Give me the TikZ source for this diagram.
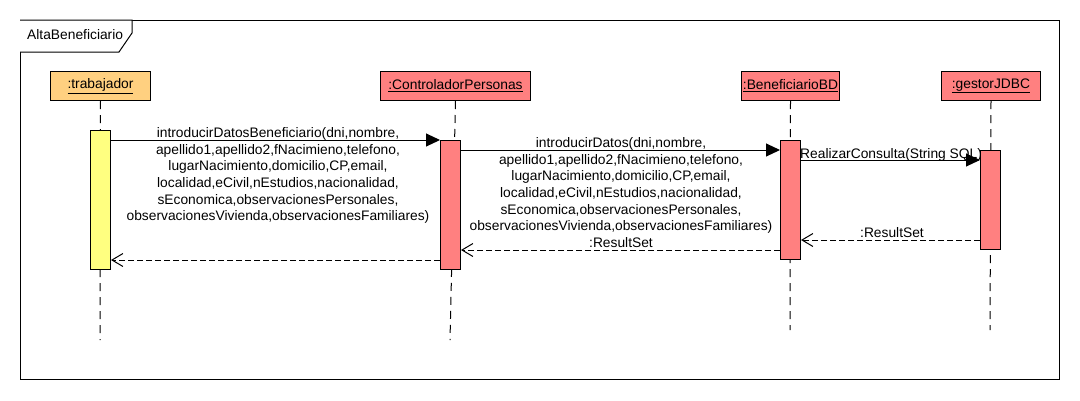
\documentclass[tikz,border=0pt]{standalone}
\usepackage{fontspec}
\setmainfont{Liberation Sans}
\usetikzlibrary{arrows.meta,calc}
\definecolor{headorange}{HTML}{FFD080}
\definecolor{headred}{HTML}{FF8080}
\definecolor{actyellow}{HTML}{FFFF80}
\tikzset{
  every node/.style={font=\fontsize{13.8}{16.6}\selectfont},
  headbox/.style={draw=black, line width=1pt, minimum height=29pt, inner sep=0pt, anchor=north west},
  actbox/.style={draw=black, line width=1pt, minimum width=20pt, inner sep=0pt, anchor=north west},
  lifeline/.style={draw=black, line width=1pt, dash pattern=on 8pt off 6pt},
  callmsg/.style={draw=black, line width=1pt, -{Triangle[length=14pt,width=13pt]}},
  retmsg/.style={draw=black, line width=1pt, dash pattern=on 6pt off 3pt, -{Straight Barb[length=11pt,width=13pt,line width=1pt]}},
  msglabel/.style={align=center, inner sep=0pt},
}
\begin{document}
\begin{tikzpicture}[x=1pt,y=-1pt]
\useasboundingbox[fill=white] (0,0) rectangle (1080,400);
% frame
\draw[line width=1pt] (20,20) rectangle (1059,379);
\draw[line width=1pt, fill=white] (20,20) -- (132,20) -- (132,33) -- (119,52) -- (20,52);
\node[anchor=west, inner sep=0pt] (ftitle) at (27,35) {AltaBeneficiario};
% heads
\node[headbox, fill=headorange, minimum width=100pt] (h1) at (50,71) {\underline{:trabajador}};
\node[headbox, fill=headred, minimum width=150pt] (h2) at (380,71) {\underline{:ControladorPersonas}};
\node[headbox, fill=headred, minimum width=98pt] (h3) at (741,71) {\underline{:BeneficiarioBD}};
\node[headbox, fill=headred, minimum width=99pt] (h4) at (941,71) {\underline{:gestorJDBC}};
% lifeline ends
\coordinate (e1) at (100,340);
\coordinate (e2) at (450,340);
\coordinate (e3) at (790,330);
\coordinate (e4) at (990,330);
\draw[lifeline] (h1.south) -- (e1);
\draw[lifeline] (h2.south) -- (e2);
\draw[lifeline] (h3.south) -- (e3);
\draw[lifeline] (h4.south) -- (e4);
% activations
\node[actbox, fill=actyellow, minimum height=139pt] (a1) at (90,130) {};
\node[actbox, fill=headred, minimum height=129pt] (a2) at (440,140) {};
\node[actbox, fill=headred, minimum height=119pt] (a3) at (780,140) {};
\node[actbox, fill=headred, minimum height=99pt] (a4) at (980,150) {};
% messages
\draw[callmsg] (a1.east |- 0,140) -- (a2.west |- 0,140);
\draw[callmsg] (a2.east |- 0,150) -- (a3.west |- 0,150);
\draw[callmsg] (a3.east |- 0,160) -- (a4.west |- 0,160);
\draw[retmsg] (a4.west |- 0,240) -- (a3.east |- 0,240);
\draw[retmsg] (a3.west |- 0,250) -- (a2.east |- 0,250);
\draw[retmsg] (a2.west |- 0,260) -- (a1.east |- 0,260);
% labels
\node[msglabel, anchor=north] (l1) at (278,127.5) {introducirDatosBeneficiario(dni,nombre,\\apellido1,apellido2,fNacimieno,telefono,\\lugarNacimiento,domicilio,CP,email,\\localidad,eCivil,nEstudios,nacionalidad,\\sEconomica,observacionesPersonales,\\observacionesVivienda,observacionesFamiliares)};
\node[msglabel, anchor=north] (l2) at (621,137.5) {introducirDatos(dni,nombre,\\apellido1,apellido2,fNacimieno,telefono,\\lugarNacimiento,domicilio,CP,email,\\localidad,eCivil,nEstudios,nacionalidad,\\sEconomica,observacionesPersonales,\\observacionesVivienda,observacionesFamiliares)};
\node[msglabel, anchor=base] (l5) at (621,247) {:ResultSet};
\node[msglabel, anchor=base west] (l3) at (800,158) {RealizarConsulta(String SQL)};
\node[msglabel, anchor=base] (l4) at (892,237) {:ResultSet};
\end{tikzpicture}
\end{document}
